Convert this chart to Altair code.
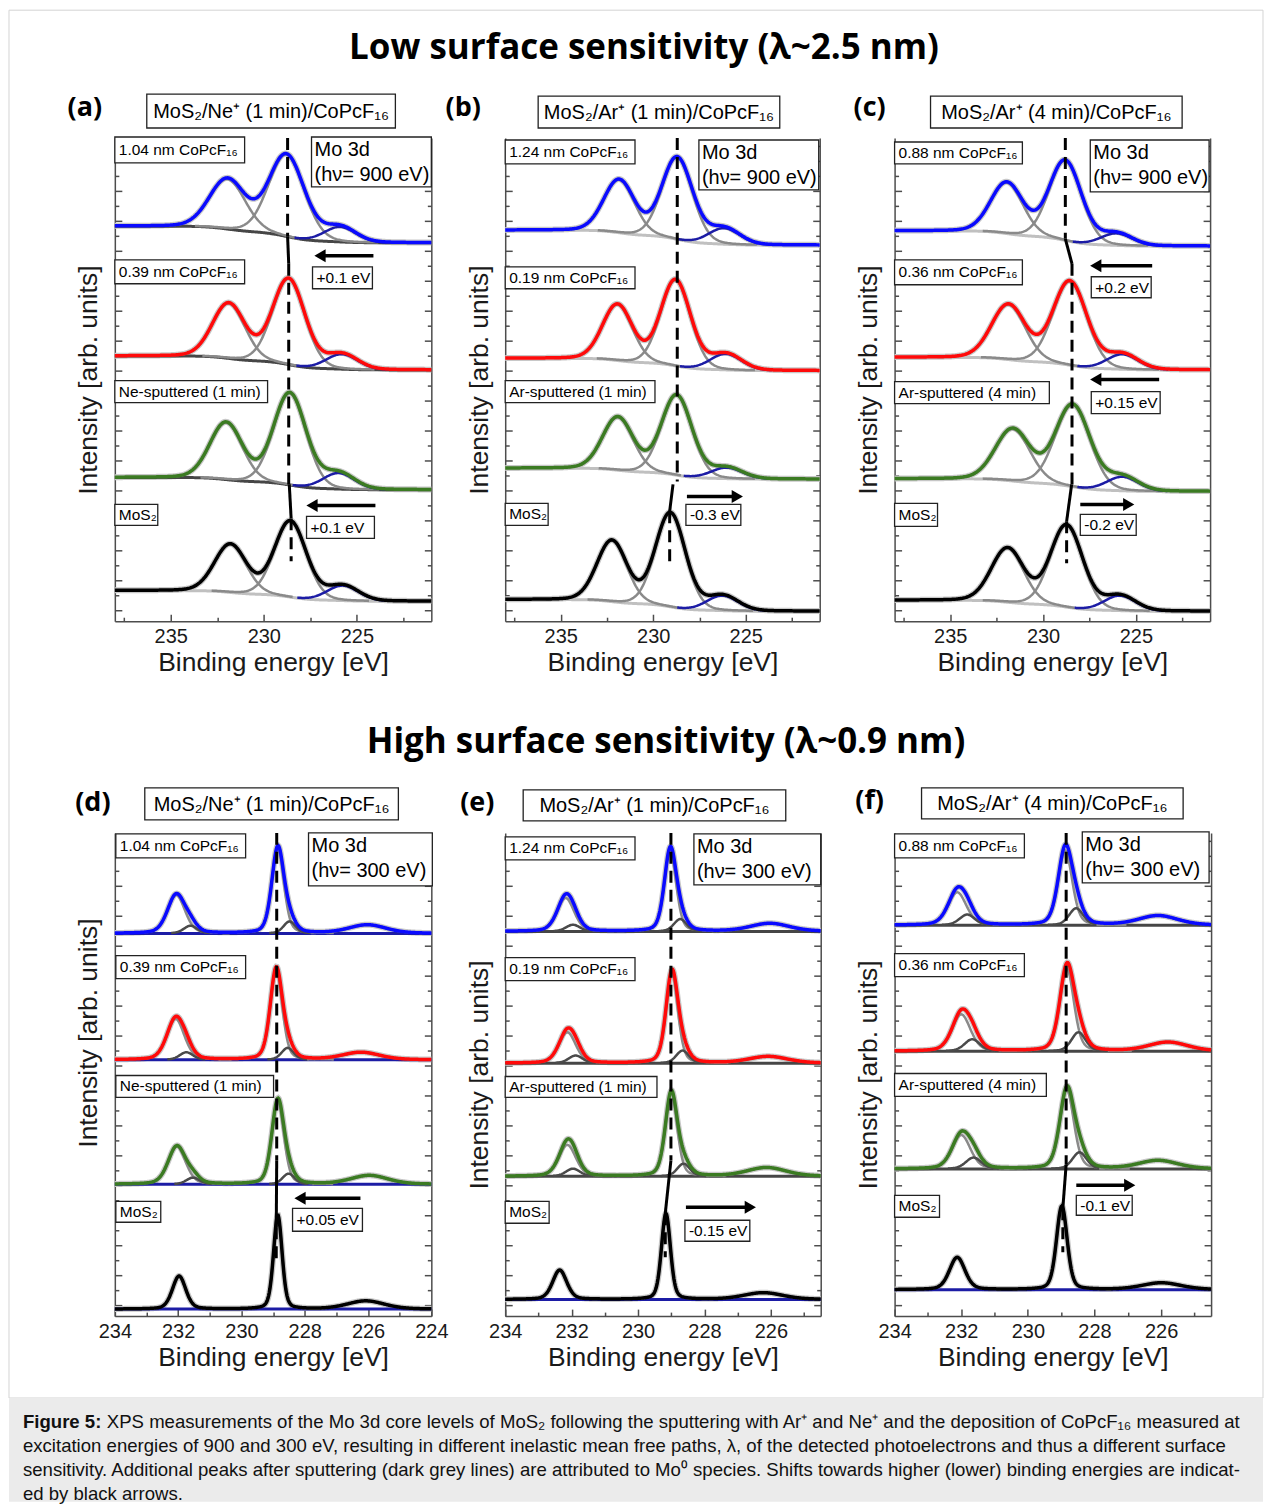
import altair as alt
import numpy as np
import pandas as pd

alt.data_transformers.disable_max_rows()

# ------------------------------------------------------------------
# Values
# peak tuples: (spectrum 0 = top ... 3 = bottom, component, binding energy [eV], height [arb. u.], FWHM [eV])
# ------------------------------------------------------------------
PEAKS_A = [
    (0, "d52", 228.78, 82, 2.25), (0, "d32", 231.95, 50, 2.25), (0, "s2s", 225.90, 15, 2.0),
    (1, "d52", 228.66, 86, 2.05), (1, "d32", 231.88, 55, 2.05), (1, "s2s", 225.80, 15, 2.0),
    (2, "d52", 228.60, 92, 2.05), (2, "d32", 232.02, 57, 2.05), (2, "s2s", 225.98, 16, 2.0),
    (3, "d52", 228.57, 76, 2.00), (3, "d32", 231.79, 48, 2.00), (3, "s2s", 225.75, 15, 2.0),
]
BG_LEFT_A = [395.7, 265.7, 144.0, 30.7]
BG_RIGHT_A = [379.0, 251.7, 131.7, 20.0]

PEAKS_B = [
    (0, "d52", 228.70, 82, 1.95), (0, "d32", 231.84, 53, 1.95), (0, "s2s", 226.16, 16, 2.0),
    (1, "d52", 228.79, 86, 1.90), (1, "d32", 231.93, 56, 1.90), (1, "s2s", 226.07, 16, 2.0),
    (2, "d52", 228.73, 80, 1.95), (2, "d32", 231.91, 53, 1.95), (2, "s2s", 226.02, 11, 2.0),
    (3, "d52", 229.07, 94, 1.90), (3, "d32", 232.23, 61, 1.90), (3, "s2s", 226.25, 15, 2.0),
]
BG_LEFT_B = [391.7, 263.3, 153.3, 21.7]
BG_RIGHT_B = [376.7, 251.0, 142.3, 10.0]

PEAKS_C = [
    (0, "d52", 228.80, 80, 2.05), (0, "d32", 231.95, 51, 2.05), (0, "s2s", 226.04, 12, 2.0),
    (1, "d52", 228.55, 84, 2.15), (1, "d32", 231.86, 55, 2.15), (1, "s2s", 225.72, 15, 2.0),
    (2, "d52", 228.40, 82, 2.20), (2, "d32", 231.63, 52, 2.20), (2, "s2s", 225.72, 14, 2.0),
    (3, "d52", 228.73, 82, 2.05), (3, "d32", 231.91, 54, 2.05), (3, "s2s", 225.86, 15, 2.0),
]
BG_LEFT_C = [391.0, 264.3, 142.7, 21.0]
BG_RIGHT_C = [375.7, 251.7, 130.0, 10.0]

PEAKS_D = [
    (0, "d52", 228.85, 85.5, 0.45), (0, "d32", 232.06, 38.6, 0.65), (0, "mo0", 228.48, 12, 0.45), (0, "mo0", 231.61, 7.7, 0.5), (0, "s2s", 226.02, 8.5, 1.4),
    (1, "d52", 228.90, 90.5, 0.45), (1, "d32", 232.08, 41.0, 0.65), (1, "mo0", 228.54, 12, 0.45), (1, "mo0", 231.74, 7.6, 0.5), (1, "s2s", 226.22, 7.4, 1.4),
    (2, "d52", 228.85, 83.5, 0.45), (2, "d32", 232.04, 38.0, 0.65), (2, "mo0", 228.51, 10.7, 0.45), (2, "mo0", 231.53, 6.7, 0.5), (2, "s2s", 225.96, 8.8, 1.4),
    (3, "d52", 228.85, 94.0, 0.32), (3, "d32", 231.97, 33.0, 0.50), (3, "s2s", 226.07, 8.2, 1.4),
]
BASE_D = [383.3, 256.7, 132.0, 7.0]

PEAKS_E = [
    (0, "d52", 229.03, 81.0, 0.42), (0, "d32", 232.18, 33.5, 0.60), (0, "mo0", 228.73, 12.4, 0.45), (0, "mo0", 231.96, 6.7, 0.5), (0, "s2s", 226.03, 8.0, 1.4),
    (1, "d52", 228.98, 90.5, 0.42), (1, "d32", 232.13, 31.0, 0.60), (1, "mo0", 228.66, 12.7, 0.45), (1, "mo0", 231.88, 7.7, 0.5), (1, "s2s", 226.08, 6.7, 1.4),
    (2, "d52", 229.00, 83.5, 0.42), (2, "d32", 232.13, 31.5, 0.60), (2, "mo0", 228.63, 12.7, 0.45), (2, "mo0", 231.96, 7.7, 0.5), (2, "s2s", 226.13, 8.7, 1.4),
    (3, "d52", 229.16, 86.0, 0.32), (3, "d32", 232.36, 29.3, 0.50), (3, "s2s", 226.23, 6.7, 1.4),
]
BASE_E = [385.3, 253.3, 140.0, 16.7]

PEAKS_F = [
    (0, "d52", 228.88, 75.0, 0.50), (0, "d32", 232.12, 33.0, 0.65), (0, "mo0", 228.55, 17.0, 0.5), (0, "mo0", 231.82, 10.7, 0.55), (0, "s2s", 226.09, 9.5, 1.4),
    (1, "d52", 228.83, 83.0, 0.50), (1, "d32", 232.00, 37.0, 0.65), (1, "mo0", 228.48, 19.0, 0.5), (1, "mo0", 231.67, 12.0, 0.55), (1, "s2s", 225.79, 9.0, 1.4),
    (2, "d52", 228.83, 79.0, 0.50), (2, "d32", 232.00, 34.0, 0.65), (2, "mo0", 228.45, 16.7, 0.5), (2, "mo0", 231.63, 11.4, 0.55), (2, "s2s", 226.09, 8.4, 1.4),
    (3, "d52", 228.98, 83.6, 0.38), (3, "d32", 232.12, 32.3, 0.55), (3, "s2s", 225.99, 6.8, 1.4),
]
BASE_F = [391.5, 265.3, 147.4, 26.5]

# guide line through the Mo 3d5/2 maximum: (segment, style, energy, intensity)
GUIDE_A = [("g1", "dash", 228.72, 484), ("g1", "dash", 228.72, 385),
           ("g2", "solid", 228.72, 385), ("g2", "solid", 228.66, 358),
           ("g3", "dash", 228.66, 358), ("g3", "dash", 228.66, 137),
           ("g4", "solid", 228.63, 137), ("g4", "solid", 228.53, 103),
           ("g5", "dash", 228.53, 103), ("g5", "dash", 228.53, 60)]
GUIDE_B = [("g1", "dash", 228.70, 484), ("g1", "dash", 228.70, 140),
           ("g2", "solid", 228.93, 137), ("g2", "solid", 229.11, 110),
           ("g3", "dash", 229.11, 110), ("g3", "dash", 229.11, 60)]
GUIDE_C = [("g1", "dash", 228.80, 484), ("g1", "dash", 228.80, 383),
           ("g2", "solid", 228.80, 383), ("g2", "solid", 228.44, 358),
           ("g3", "dash", 228.44, 358), ("g3", "dash", 228.44, 137),
           ("g4", "solid", 228.46, 137), ("g4", "solid", 228.73, 100),
           ("g5", "dash", 228.73, 100), ("g5", "dash", 228.73, 58)]
GUIDE_D = [("g1", "dash", 228.885, 484), ("g1", "dash", 228.885, 156),
           ("g2", "solid", 228.885, 156), ("g2", "solid", 228.90, 89),
           ("g3", "dash", 228.90, 89), ("g3", "dash", 228.90, 56)]
GUIDE_E = [("g1", "dash", 229.01, 484), ("g1", "dash", 229.01, 156),
           ("g2", "solid", 229.01, 156), ("g2", "solid", 229.18, 103),
           ("g3", "dash", 229.18, 103), ("g3", "dash", 229.18, 59)]
GUIDE_F = [("g1", "dash", 228.85, 484), ("g1", "dash", 228.85, 152),
           ("g2", "solid", 228.85, 152), ("g2", "solid", 228.95, 108),
           ("g3", "dash", 228.95, 108), ("g3", "dash", 228.95, 64)]

# texts
HEAD_A = "MoS₂/Ne⁺ (1 min)/CoPcF₁₆"
HEAD_B = "MoS₂/Ar⁺ (1 min)/CoPcF₁₆"
HEAD_C = "MoS₂/Ar⁺ (4 min)/CoPcF₁₆"
SPEC_A = ["1.04 nm CoPcF₁₆", "0.39 nm CoPcF₁₆", "Ne-sputtered (1 min)", "MoS₂"]
SPEC_B = ["1.24 nm CoPcF₁₆", "0.19 nm CoPcF₁₆", "Ar-sputtered (1 min)", "MoS₂"]
SPEC_C = ["0.88 nm CoPcF₁₆", "0.36 nm CoPcF₁₆", "Ar-sputtered (4 min)", "MoS₂"]
SHIFT_A = ["+0.1 eV", "+0.1 eV"]
SHIFT_B = ["-0.3 eV"]
SHIFT_C = ["+0.2 eV", "+0.15 eV", "-0.2 eV"]
SHIFT_D = ["+0.05 eV"]
SHIFT_E = ["-0.15 eV"]
SHIFT_F = ["-0.1 eV"]
TAGS = ["(a)", "(b)", "(c)", "(d)", "(e)", "(f)"]
LEVEL = "Mo 3d"
ENERGY_LOW = "(hν= 900 eV)"
ENERGY_HIGH = "(hν= 300 eV)"
TITLE_LOW = "Low surface sensitivity (λ~2.5 nm)"
TITLE_HIGH = "High surface sensitivity (λ~0.9 nm)"
CAPTION_BOLD = "Figure 5:"
CAPTION_LINES = [
    "XPS measurements of the Mo 3d core levels of MoS₂ following the sputtering with Ar⁺ and Ne⁺ and the deposition of CoPcF₁₆ measured at",
    "excitation energies of 900 and 300 eV, resulting in different inelastic mean free paths, λ, of the detected photoelectrons and thus a different surface",
    "sensitivity. Additional peaks after sputtering (dark grey lines) are attributed to Mo⁰ species. Shifts towards higher (lower) binding energies are indicat-",
    "ed by black arrows.",
]
XTICKS_LOW = [235, 230, 225]
XMINOR_LOW = [237.5, 232.5, 227.5, 222.5]
XTICKS_HIGH_D = [234, 232, 230, 228, 226, 224]
XTICKS_HIGH = [234, 232, 230, 228, 226]
XMINOR_HIGH = [233, 231, 229, 227, 225]

# ------------------------------------------------------------------
# styles and layout (pixels relative to each panel's plot area)
# ------------------------------------------------------------------
H = 484
COL_SPACING = 74
ROW_SPACING = 212
RAW_C = "#c8c8c8"
GREY_C = "#8a8a8a"
LIGHT_C = "#c0c0c0"
DARK_C = "#464646"
NAVY_C = "#1c1ca5"
MO0_C = "#4a4a4a"
FIT_C = ["#0a0aff", "#ff0a0a", "#3b7b22", "#000000"]
TXT_FONT = "Liberation Sans"
BOLD_FONT = "Open Sans"

LAY = {
    "a": dict(tag=(-30, -30), head=(32, 281, -44, -10), spec=[(0, 130, -1, 25), (0, 130, 122, 146), (0, 153, 243, 265), (0, 43, 367, 388)],
              mo=(197, 317, -1, 49), shift=[(198, 258, 129, 151), (192, 260, 379, 401)], arrows=[(259, 199, 118), (261, 191, 368)]),
    "b": dict(tag=(-42, -30), head=(33, 275, -42, -10), spec=[(0, 130, 2, 26), (0, 130, 129, 151), (0, 150, 243, 265), (0, 43, 366, 388)],
              mo=(194, 314, 2, 52), shift=[(181, 236, 367, 388)], arrows=[(182, 239, 359)]),
    "c": dict(tag=(-25, -30), head=(36, 288, -42, -10), spec=[(0, 128, 4, 26), (0, 128, 122, 147), (0, 155, 244, 266), (0, 43, 366, 389)],
              mo=(196, 315, 2, 54), shift=[(197, 257, 139, 160), (197, 266, 254, 276), (186, 242, 377, 398)],
              arrows=[(258, 195, 128), (265, 195, 242), (186, 241, 367)]),
    "d": dict(tag=(-22, -30), head=(30, 284, -45, -13), spec=[(1, 131, 1, 25), (1, 131, 123, 146), (1, 159, 243, 265), (1, 46, 369, 390)],
              mo=(194, 318, 0, 53), shift=[(178, 248, 376, 399)], arrows=[(246, 179, 366)]),
    "e": dict(tag=(-28, -30), head=(18, 281, -43, -12), spec=[(0, 130, 4, 27), (0, 130, 125, 148), (0, 152, 244, 265), (0, 44, 369, 391)],
              mo=(189, 316, 1, 52), shift=[(180, 245, 388, 409)], arrows=[(181, 252, 375)]),
    "f": dict(tag=(-25, -32), head=(27, 289, -45, -14), spec=[(0, 130, 1, 25), (0, 130, 121, 144), (0, 152, 241, 264), (0, 45, 363, 385)],
              mo=(188, 315, -1, 50), shift=[(182, 238, 363, 383)], arrows=[(182, 242, 353)]),
}


def pv(E, e0, h, w, eta):
    u = (E - e0) / w
    return h * ((1.0 - eta) * np.exp(-4.0 * np.log(2.0) * u * u) + eta / (1.0 + 4.0 * u * u))


def build_curves(peaks, eta, grid, bgl, bgr, base, bgcols):
    recs = {"raw": [], "bg": [], "d": [], "mo0": [], "s2s": [], "fit": []}
    for s in range(4):
        comps = [p for p in peaks if p[0] == s]
        vals = [pv(grid, p[2], p[3], p[4], eta) for p in comps]
        tot = np.sum(vals, axis=0)
        if base is None:
            cum = np.cumsum(tot[::-1])[::-1]
            bg = bgr[s] + (bgl[s] - bgr[s]) * cum / cum[0]
        else:
            bg = np.full(grid.shape, float(base[s]))
        recs["raw"].append(pd.DataFrame({"E": grid, "I": bg + tot, "series": f"r{s}"}))
        recs["bg"].append(pd.DataFrame({"E": grid, "I": bg, "series": f"b{s}", "col": bgcols[s]}))
        for k, (p, v) in enumerate(zip(comps, vals)):
            m = v > 0.4
            key = "d" if p[1] in ("d52", "d32") else p[1]
            recs[key].append(pd.DataFrame({"E": grid[m], "I": (bg + v)[m], "series": f"c{s}_{k}"}))
        recs["fit"].append(pd.DataFrame({"E": grid, "I": bg + tot, "series": f"f{s}", "spec": str(s)}))
    return {k: pd.concat(v, ignore_index=True) for k, v in recs.items() if v}


def px(field):
    return alt.X(field, type="quantitative", scale=None, axis=None)


def py(field):
    return alt.Y(field, type="quantitative", scale=None, axis=None)


def panel(key, peaks, eta, xlo, xhi, step, bgl, bgr, base, bgcols, s2scol, guides,
          xlab, xminor, W, tag, head, specs, shifts, energy, title_y=None, extra=None):
    lay = LAY[key]
    grid = np.round(np.arange(xhi, xlo - step / 2, -step), 4)
    dfs = build_curves(peaks, eta, grid, bgl, bgr, base, bgcols)
    xs = alt.Scale(domain=[xlo, xhi], reverse=True, nice=False, zero=False)
    ys = alt.Scale(domain=[0, H], nice=False, zero=False)
    ymaj = list(range(11, H, 30))
    ymin = list(range(26, H, 30))

    ax_bottom = alt.Axis(orient="bottom", values=xlab, ticks=False, tickSize=0, labelPadding=5,
                         labelFlush=False, labelOverlap=False, domain=True,
                         title="Binding energy [eV]", titlePadding=3)
    ytitle_kw = dict(orient="left", title="Intensity [arb. units]", labels=False, ticks=False,
                     tickSize=0, domain=False, titlePadding=12)
    if title_y is not None:
        ytitle_kw["titleY"] = title_y
    ax_ytitle = alt.Axis(**ytitle_kw)
    ax_xmaj = alt.Axis(orient="top", offset=-H, values=xlab, labels=False, domain=False, tickSize=7, title=None)
    ax_xmin = alt.Axis(orient="top", offset=-H, values=xminor, labels=False, domain=False, tickSize=4, title=None)
    ax_yl = alt.Axis(orient="right", offset=-W, values=ymaj, labels=False, domain=True, tickSize=7, title=None)
    ax_yr = alt.Axis(orient="left", offset=-W, values=ymaj, labels=False, domain=True, tickSize=7, title=None)
    ax_ylm = alt.Axis(orient="right", offset=-W, values=ymin, labels=False, domain=False, tickSize=4, title=None)
    ax_yrm = alt.Axis(orient="left", offset=-W, values=ymin, labels=False, domain=False, tickSize=4, title=None)

    def X(ax):
        return alt.X("E:Q", scale=xs, axis=ax)

    def Y(ax):
        return alt.Y("I:Q", scale=ys, axis=ax)

    layers = [
        alt.Chart(dfs["raw"]).mark_line(color=RAW_C, strokeWidth=6).encode(
            x=X(ax_bottom), y=Y(ax_ytitle), detail="series:N"),
        alt.Chart(dfs["bg"]).mark_line(strokeWidth=3).encode(
            x=X(ax_xmaj), y=Y(ax_yl), color=alt.Color("col:N", scale=None), detail="series:N"),
        alt.Chart(dfs["d"]).mark_line(color=GREY_C, strokeWidth=2.5).encode(
            x=X(ax_xmin), y=Y(ax_yr), detail="series:N"),
    ]
    if "mo0" in dfs:
        layers.append(alt.Chart(dfs["mo0"]).mark_line(color=MO0_C, strokeWidth=2.5).encode(
            x=X(None), y=Y(None), detail="series:N"))
    layers.append(alt.Chart(dfs["s2s"]).mark_line(color=s2scol, strokeWidth=2.5).encode(
        x=X(None), y=Y(ax_ylm), detail="series:N"))
    layers.append(alt.Chart(dfs["fit"]).mark_line(strokeWidth=3.5).encode(
        x=X(None), y=Y(ax_yrm),
        color=alt.Color("spec:N", scale=alt.Scale(domain=["0", "1", "2", "3"], range=FIT_C), legend=None),
        detail="series:N"))

    g = pd.DataFrame(guides, columns=["seg", "style", "E", "I"])
    layers.append(alt.Chart(g[g["style"] == "dash"]).mark_line(color="black", strokeWidth=3, strokeDash=[12, 7]).encode(
        x=X(None), y=Y(None), detail="seg:N"))
    layers.append(alt.Chart(g[g["style"] == "solid"]).mark_line(color="black", strokeWidth=3).encode(
        x=X(None), y=Y(None), detail="seg:N"))

    # boxes
    boxes = []
    for (x1, x2, y1, y2) in lay["spec"] + [lay["mo"]] + lay["shift"] + [lay["head"]]:
        boxes.append({"x1": x1, "x2": x2, "y1": y1, "y2": y2})
    layers.append(alt.Chart(pd.DataFrame(boxes)).mark_rect(fill="white", stroke="#222222", strokeWidth=1.3).encode(
        x=px("x1"), x2="x2:Q", y=py("y1"), y2="y2:Q"))

    # left-aligned texts
    tl = []
    for (x1, x2, y1, y2), t in zip(lay["spec"], specs):
        tl.append({"x": x1 + 4, "y": (y1 + y2) / 2, "t": t, "fs": 15.5})
    for (x1, x2, y1, y2), t in zip(lay["shift"], shifts):
        tl.append({"x": x1 + 4, "y": (y1 + y2) / 2 + 0.5, "t": t, "fs": 15.5})
    mx1, mx2, my1, my2 = lay["mo"]
    tl.append({"x": mx1 + 3, "y": my1 + 13, "t": LEVEL, "fs": 20})
    tl.append({"x": mx1 + 3, "y": my1 + 38, "t": energy, "fs": 20})
    layers.append(alt.Chart(pd.DataFrame(tl)).mark_text(align="left", baseline="middle", font=TXT_FONT, color="black").encode(
        x=px("x"), y=py("y"), text="t:N", size=alt.Size("fs:Q", scale=None)))

    hx1, hx2, hy1, hy2 = lay["head"]
    tc = pd.DataFrame([{"x": (hx1 + hx2) / 2, "y": (hy1 + hy2) / 2 + 1, "t": head, "fs": 20}])
    layers.append(alt.Chart(tc).mark_text(align="center", baseline="middle", font=TXT_FONT, color="black").encode(
        x=px("x"), y=py("y"), text="t:N", size=alt.Size("fs:Q", scale=None)))

    tb = pd.DataFrame([{"x": lay["tag"][0], "y": lay["tag"][1], "t": tag, "fs": 27}])
    layers.append(alt.Chart(tb).mark_text(align="center", baseline="middle", font=BOLD_FONT, fontWeight="bold", color="black").encode(
        x=px("x"), y=py("y"), text="t:N", size=alt.Size("fs:Q", scale=None)))

    # arrows
    r = 6.5
    shafts, heads = [], []
    for (tail, tip, yy) in lay["arrows"]:
        if tail > tip:
            c = tip + r
            shp = "triangle-left"
        else:
            c = tip - r
            shp = "triangle-right"
        shafts.append({"x1": tail, "x2": c, "y": yy})
        heads.append({"x": c, "y": yy, "shp": shp, "sz": 4 * r * r})
    layers.append(alt.Chart(pd.DataFrame(shafts)).mark_rule(color="black", strokeWidth=3.5).encode(
        x=px("x1"), x2="x2:Q", y=py("y")))
    layers.append(alt.Chart(pd.DataFrame(heads)).mark_point(filled=True, color="black", opacity=1, strokeWidth=0).encode(
        x=px("x"), y=py("y"), shape=alt.Shape("shp:N", scale=None), size=alt.Size("sz:Q", scale=None)))

    if extra:
        layers.extend(extra)

    return alt.layer(*layers).properties(width=W, height=H).resolve_axis(x="independent", y="independent")


# ------------------------------------------------------------------
# global elements drawn relative to panel (a) plot origin
# ------------------------------------------------------------------
frame = alt.Chart(pd.DataFrame([{"x1": -106, "x2": 1150, "y1": -128, "y2": 1262}])).mark_rect(
    fill=None, stroke="#d4d4d4", strokeWidth=1).encode(x=px("x1"), x2="x2:Q", y=py("y1"), y2="y2:Q")
capbox = alt.Chart(pd.DataFrame([{"x1": -106, "x2": 1150, "y1": 1262, "y2": 1366}])).mark_rect(
    fill="#ebebeb", stroke=None).encode(x=px("x1"), x2="x2:Q", y=py("y1"), y2="y2:Q")
titles = alt.Chart(pd.DataFrame([{"x": 530, "y": -90, "t": TITLE_LOW}, {"x": 552, "y": 605, "t": TITLE_HIGH}])).mark_text(
    align="center", baseline="middle", font=BOLD_FONT, fontWeight="bold", fontSize=35, color="black").encode(
    x=px("x"), y=py("y"), text="t:N")
cap_rows = [{"x": -8, "y": 1286, "t": CAPTION_LINES[0]}] + [
    {"x": -92, "y": 1286 + 24 * i, "t": CAPTION_LINES[i]} for i in range(1, 4)]
caption = alt.Chart(pd.DataFrame(cap_rows)).mark_text(
    align="left", baseline="middle", font=TXT_FONT, fontSize=18.6, color="#111111").encode(
    x=px("x"), y=py("y"), text="t:N")
caption_b = alt.Chart(pd.DataFrame([{"x": -92, "y": 1286, "t": CAPTION_BOLD}])).mark_text(
    align="left", baseline="middle", font=TXT_FONT, fontWeight="bold", fontSize=18.6, color="#111111").encode(
    x=px("x"), y=py("y"), text="t:N")

pa = panel("a", PEAKS_A, 0.1, 221, 238, 0.05, BG_LEFT_A, BG_RIGHT_A, None, [DARK_C, DARK_C, DARK_C, LIGHT_C], NAVY_C,
           GUIDE_A, XTICKS_LOW, XMINOR_LOW, 317, TAGS[0], HEAD_A, SPEC_A, SHIFT_A, ENERGY_LOW,
           extra=[frame, capbox, titles, caption, caption_b])
pb = panel("b", PEAKS_B, 0.1, 221, 238, 0.05, BG_LEFT_B, BG_RIGHT_B, None, [LIGHT_C] * 4, NAVY_C,
           GUIDE_B, XTICKS_LOW, XMINOR_LOW, 315, TAGS[1], HEAD_B, SPEC_B, SHIFT_B, ENERGY_LOW)
pc = panel("c", PEAKS_C, 0.1, 221, 238, 0.05, BG_LEFT_C, BG_RIGHT_C, None, [LIGHT_C] * 4, NAVY_C,
           GUIDE_C, XTICKS_LOW, XMINOR_LOW, 316, TAGS[2], HEAD_C, SPEC_C, SHIFT_C, ENERGY_LOW)
pd_ = panel("d", PEAKS_D, 0.3, 224, 234, 0.02, None, None, BASE_D, [NAVY_C] * 4, GREY_C,
            GUIDE_D, XTICKS_HIGH_D, XMINOR_HIGH, 317, TAGS[3], HEAD_A, SPEC_A, SHIFT_D, ENERGY_HIGH, title_y=200)
pe = panel("e", PEAKS_E, 0.3, 224.5, 234, 0.02, None, None, BASE_E, [DARK_C, DARK_C, DARK_C, NAVY_C], GREY_C,
           GUIDE_E, XTICKS_HIGH, XMINOR_HIGH, 316, TAGS[4], HEAD_B, SPEC_B, SHIFT_E, ENERGY_HIGH)
pf = panel("f", PEAKS_F, 0.3, 224.5, 234, 0.02, None, None, BASE_F, [DARK_C, DARK_C, DARK_C, NAVY_C], GREY_C,
           GUIDE_F, XTICKS_HIGH, XMINOR_HIGH, 317, TAGS[5], HEAD_C, SPEC_C, SHIFT_F, ENERGY_HIGH)

chart = alt.concat(pa, pb, pc, pd_, pe, pf, columns=3, bounds="flush",
                   spacing={"row": ROW_SPACING, "column": COL_SPACING}).properties(padding=0).configure(
    background="white"
).configure_view(stroke=None).configure_axis(
    grid=False,
    labelFont=TXT_FONT, labelFontSize=20, labelColor="#1a1a1a",
    titleFont=TXT_FONT, titleFontSize=26.5, titleFontWeight="normal", titleColor="#1a1a1a",
    domainColor="#4d4d4d", domainWidth=1.5, tickColor="#4d4d4d", tickWidth=1.5,
)

chart.save("out.html", embed_options={"renderer": "svg", "actions": False})
